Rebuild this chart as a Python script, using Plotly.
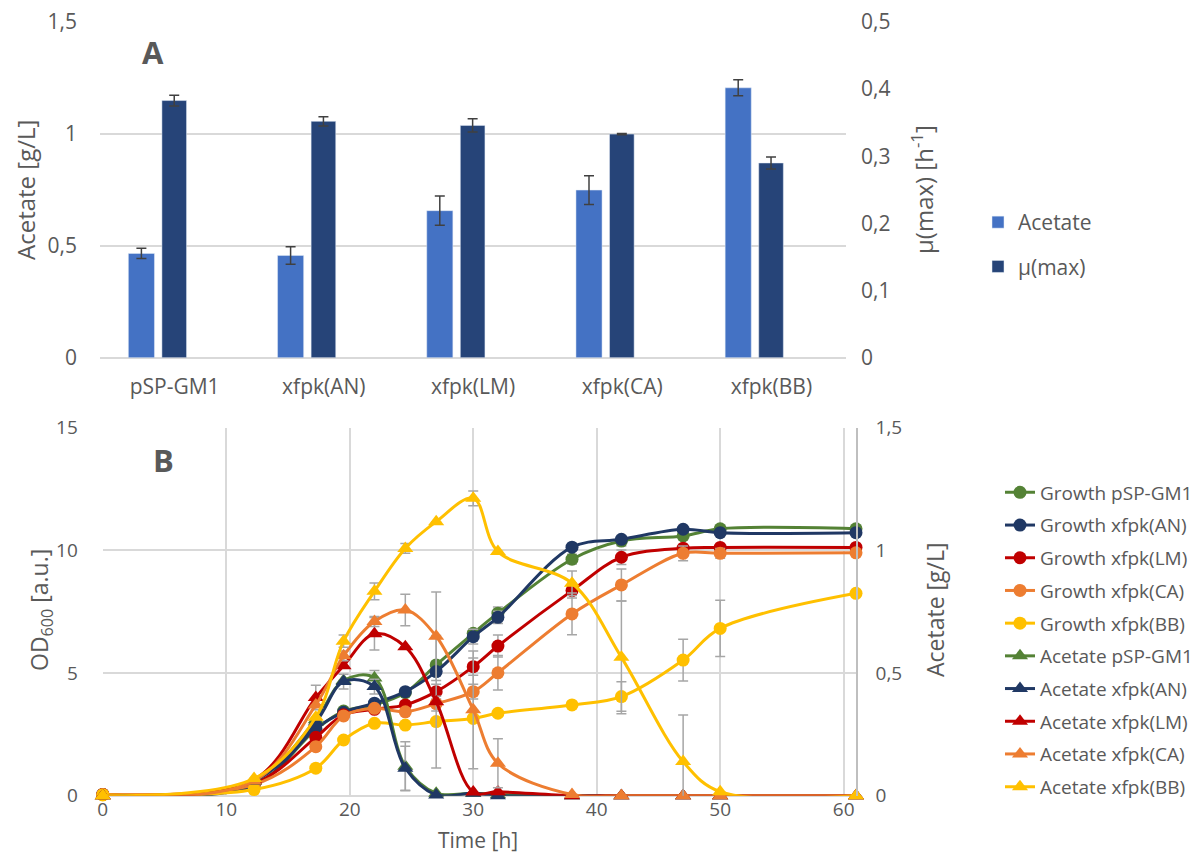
import plotly.graph_objects as go

# ---------------- Panel A: acetate titre and maximal growth rate ----------------
strains = ["pSP-GM1", "xfpk(AN)", "xfpk(LM)", "xfpk(CA)", "xfpk(BB)"]
acetate_final = [0.466, 0.457, 0.657, 0.749, 1.206]
acetate_final_err = [0.023, 0.039, 0.065, 0.064, 0.036]
mu_max = [0.383, 0.352, 0.346, 0.333, 0.290]
mu_max_err = [0.008, 0.007, 0.010, 0.001, 0.009]

# ---------------- Panel B: time courses ----------------
time_h = [0, 12.25, 17.25, 19.5, 22, 24.5, 27, 30, 32, 38, 42, 47, 50, 61]

od_gm1 = [0.05, 0.45, 2.7, 3.45, 3.7, 4.2, 5.33, 6.62, 7.44, 9.64, 10.38, 10.59, 10.88, 10.88]
od_an = [0.05, 0.42, 2.75, 3.4, 3.77, 4.24, 5.06, 6.48, 7.27, 10.13, 10.45, 10.86, 10.72, 10.72]
od_lm = [0.05, 0.5, 2.38, 3.3, 3.52, 3.7, 4.24, 5.26, 6.1, 8.36, 9.72, 10.09, 10.12, 10.12]
od_ca = [0.05, 0.45, 2.0, 3.25, 3.56, 3.42, 3.75, 4.24, 5.01, 7.41, 8.59, 9.88, 9.88, 9.9]
od_bb = [0.03, 0.25, 1.12, 2.27, 2.95, 2.88, 3.02, 3.15, 3.36, 3.7, 4.04, 5.53, 6.82, 8.25]

ac_gm1 = [0, 0.06, 0.31, 0.47, 0.48, 0.12, 0.01, 0.01, 0.005, 0, 0, 0, 0, 0]
ac_an = [0, 0.06, 0.30, 0.465, 0.445, 0.112, 0.003, 0.01, 0.0, 0, 0, 0, 0, 0]
ac_lm = [0, 0.065, 0.40, 0.53, 0.66, 0.607, 0.383, 0.015, 0.016, 0, 0, 0, 0, 0]
ac_ca = [0, 0.06, 0.37, 0.57, 0.71, 0.757, 0.65, 0.35, 0.132, 0.005, 0, 0, 0, 0]
ac_bb = [0, 0.07, 0.32, 0.63, 0.833, 1.008, 1.117, 1.212, 0.995, 0.866, 0.564, 0.139, 0.016, 0.0]

N = None
od_gm1_err = [N, N, N, N, N, N, N, N, 0.25, 0.2, 0.2, 0.15, N, N]
od_an_err = [N, N, N, N, N, N, N, 0.3, 0.25, N, N, N, N, N]
od_lm_err = [N, N, N, N, N, N, 0.3, 0.35, 0.45, 0.3, 0.3, N, N, N]
od_ca_err = [N, N, N, N, N, N, 0.3, 0.3, 0.7, 0.85, 0.65, 0.3, 0.2, N]
od_bb_err = [N, N, N, N, N, N, N, N, N, N, 0.6, 0.85, 1.15, N]

ac_gm1_err = [N, N, N, N, 0.03, 0.1, N, N, N, N, N, N, N, N]
ac_an_err = [N, N, N, 0.03, 0.03, 0.09, N, N, N, N, N, N, N, N]
ac_lm_err = [N, N, 0.05, N, 0.066, N, 0.27, N, N, N, N, N, N, N]
ac_ca_err = [N, N, N, 0.02, 0.02, 0.064, 0.18, 0.24, 0.1, N, N, N, N, N]
ac_bb_err = [N, N, N, 0.025, 0.034, 0.02, N, 0.03, N, 0.05, 0.23, 0.19, N, N]

strain_colors = {
    "pSP-GM1": "#548235",
    "xfpk(AN)": "#203864",
    "xfpk(LM)": "#C00000",
    "xfpk(CA)": "#ED7D31",
    "xfpk(BB)": "#FFC000",
}

growth = [("pSP-GM1", od_gm1, od_gm1_err), ("xfpk(AN)", od_an, od_an_err),
          ("xfpk(LM)", od_lm, od_lm_err), ("xfpk(CA)", od_ca, od_ca_err),
          ("xfpk(BB)", od_bb, od_bb_err)]
acetate = [("pSP-GM1", ac_gm1, ac_gm1_err), ("xfpk(AN)", ac_an, ac_an_err),
           ("xfpk(LM)", ac_lm, ac_lm_err), ("xfpk(CA)", ac_ca, ac_ca_err),
           ("xfpk(BB)", ac_bb, ac_bb_err)]

FONT = "Open Sans"
TXT = "#595959"
GRID = "#D9D9D9"
W, H = 1200, 854

fig = go.Figure()

# bars
fig.add_trace(go.Bar(
    x=strains, y=acetate_final, name="Acetate", marker_color="#4472C4",
    width=0.175, offset=-0.31,
    error_y=dict(type="data", array=acetate_final_err, color="#404040", thickness=1.5, width=5),
    xaxis="x", yaxis="y", legend="legend", legendgroup="a1"))
fig.add_trace(go.Bar(
    x=strains, y=mu_max, name="µ(max)", marker_color="#264478",
    width=0.165, offset=-0.085,
    error_y=dict(type="data", array=mu_max_err, color="#404040", thickness=1.5, width=5),
    xaxis="x", yaxis="y2", legend="legend", legendgroup="a2"))

err_style = dict(color="#A6A6A6", thickness=1.5, width=5)

for name, vals, err in growth:
    fig.add_trace(go.Scatter(
        x=time_h, y=vals, name=f"Growth {name}", mode="lines+markers",
        line=dict(color=strain_colors[name], width=3, shape="spline", smoothing=1),
        marker=dict(symbol="circle", size=13, color=strain_colors[name]),
        error_y=dict(type="data", array=err, **err_style),
        cliponaxis=False, xaxis="x3", yaxis="y3", legend="legend2",
        legendgroup=f"g{name}"))

for name, vals, err in acetate:
    fig.add_trace(go.Scatter(
        x=time_h, y=vals, name=f"Acetate {name}", mode="lines+markers",
        line=dict(color=strain_colors[name], width=3, shape="spline", smoothing=1),
        marker=dict(symbol="triangle-up", size=14, color=strain_colors[name]),
        error_y=dict(type="data", array=err, **err_style),
        cliponaxis=False, xaxis="x3", yaxis="y4", legend="legend2",
        legendgroup=f"a{name}"))

# plot-area geometry in pixels
a_left, a_right, a_top, a_bottom = 100, 846, 22, 357.7
b_left, b_right, b_top, b_bottom = 102.8, 856, 427.7, 795.7


def px_x(v):
    return v / W


def px_y(v):
    return 1 - v / H


def font(size):
    return dict(family=FONT, size=size, color=TXT)


TICK_A, TICK_B, TITLE = 21, 19, 23


def title_ann(text, x, y, angle=0, size=TITLE):
    return dict(text=text, x=px_x(x), y=px_y(y), xref="paper", yref="paper",
                xanchor="center", yanchor="middle", textangle=angle,
                showarrow=False, font=font(size))


fig.update_layout(
    width=W, height=H,
    margin=dict(l=0, r=0, t=0, b=0, autoexpand=False),
    paper_bgcolor="white", plot_bgcolor="white",
    separators=", ",
    font=font(TICK_B),
    barmode="overlay",
    xaxis=dict(domain=[px_x(a_left), px_x(a_right)], anchor="y", type="category",
               range=[-0.5, 4.5], showgrid=False, showline=False, ticks="",
               tickfont=font(TICK_A), ticklabelstandoff=14, zeroline=False),
    yaxis=dict(domain=[px_y(a_bottom), px_y(a_top)], anchor="x", range=[0, 1.5], dtick=0.5,
               gridcolor=GRID, gridwidth=1.5, zeroline=True, zerolinecolor=GRID, zerolinewidth=1.5,
               showline=False, ticks="", tickfont=font(TICK_A), ticklabelstandoff=22),
    yaxis2=dict(overlaying="y", side="right", anchor="x", range=[0, 0.5], dtick=0.1,
                showgrid=False, zeroline=False, showline=False, ticks="",
                tickfont=font(TICK_A), ticklabelstandoff=14),
    xaxis3=dict(domain=[px_x(b_left), px_x(b_right)], anchor="y3", range=[0, 61],
                tickvals=[0, 10, 20, 30, 40, 50, 60], showgrid=True, gridcolor=GRID, gridwidth=1.5,
                zeroline=False, showline=False, ticks="", tickfont=font(TICK_B),
                ticklabelstandoff=0),
    yaxis3=dict(domain=[px_y(b_bottom), px_y(b_top)], anchor="x3", range=[0, 15], dtick=5,
                gridcolor=GRID, gridwidth=1.5, zeroline=True, zerolinecolor=GRID, zerolinewidth=1.5,
                showline=False, ticks="", tickfont=font(TICK_B), ticklabelstandoff=24),
    yaxis4=dict(overlaying="y3", side="right", anchor="x3", range=[0, 1.5], dtick=0.5,
                showgrid=False, zeroline=False, showline=True, linecolor="#BFBFBF", linewidth=1.5,
                ticks="", tickfont=font(TICK_B), ticklabelstandoff=14),
    legend=dict(x=px_x(978), y=px_y(244.5), xanchor="left", yanchor="middle",
                font=font(21), bgcolor="rgba(0,0,0,0)",
                tracegroupgap=14, traceorder="grouped"),
    legend2=dict(x=px_x(1000), y=px_y(639.5), xanchor="left", yanchor="middle",
                 font=font(19), bgcolor="rgba(0,0,0,0)",
                 tracegroupgap=5, traceorder="grouped"),
    annotations=[
        dict(text="<b>A</b>", x=px_x(153), y=px_y(52), xref="paper", yref="paper",
             xanchor="center", yanchor="middle", showarrow=False, font=font(31)),
        dict(text="<b>B</b>", x=px_x(163), y=px_y(460), xref="paper", yref="paper",
             xanchor="center", yanchor="middle", showarrow=False, font=font(31)),
        title_ann("Acetate [g/L]", 25, 190, -90, 24),
        title_ann("µ(max) [h<sup>-1</sup>]", 922, 190, -90, 24),
        title_ann("OD<sub>600</sub> [a.u.]", 40, 610, -90),
        title_ann("Acetate [g/L]", 935, 610, -90),
        title_ann("Time [h]", 478, 840, 0, 21),
    ],
)

fig.write_html("out.html")
